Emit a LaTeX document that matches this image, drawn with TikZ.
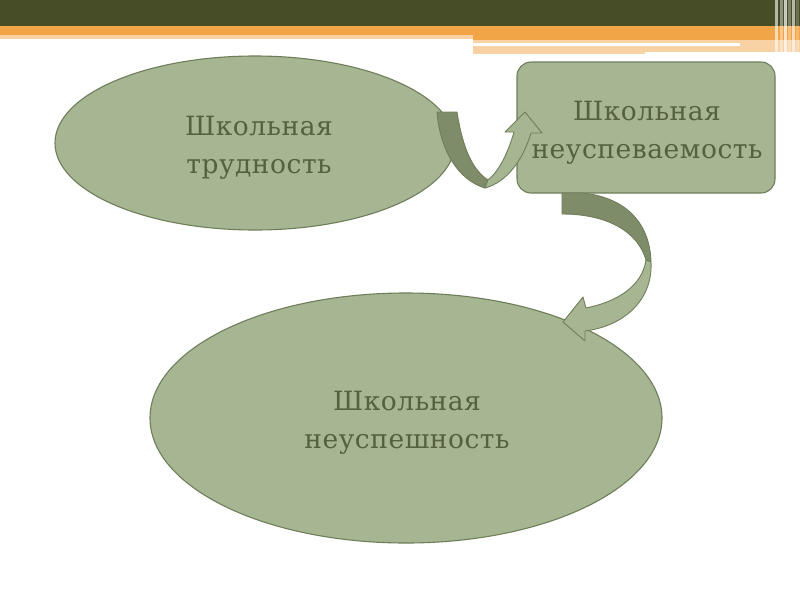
\documentclass[tikz,border=0pt]{standalone}
\usepackage{fontspec}
\usetikzlibrary{shapes.geometric}
\setmainfont{DejaVu Serif}[LetterSpace=2]
\definecolor{olive}{HTML}{464D27}
\definecolor{orng}{HTML}{F2A547}
\definecolor{pale}{HTML}{F8D2A4}
\definecolor{sage}{HTML}{A6B592}
\definecolor{sageline}{HTML}{6F7E5A}
\definecolor{sagedark}{HTML}{7E8C6A}
\definecolor{txt}{HTML}{55613F}
\tikzset{
  shapebox/.style={fill=sage, draw=sageline, line width=1.1pt},
  lbl/.style={text=txt, font=\fontsize{26.5}{38}\selectfont, anchor=base, inner sep=0pt},
  ribbon/.style={draw=sageline, line width=0.9pt, line join=round},
}
\begin{document}
\begin{tikzpicture}[x=1pt,y=-1pt]
\useasboundingbox (0,0) rectangle (800,600);
\fill[white] (0,0) rectangle (800,600);
% header
\fill[olive] (0,0) rectangle (800,26);
\fill[orng] (0,26) rectangle (800,35);
\fill[pale] (0,35) rectangle (473,39);
\fill[orng] (473,35) rectangle (800,40);
\fill[pale] (473,40) rectangle (740,43);
\fill[pale] (473,46) rectangle (645,54);
\fill[pale] (645,46) rectangle (785,52);
\fill[pale] (740,40) rectangle (800,52);
\foreach \x/\c in {775/60,780/40,784/70,788/30,792/60,796/20}
  \fill[white,opacity=0.\c] (\x,0) rectangle (\x+2.5,54);
% shapes
\node[shapebox, ellipse, minimum width=400pt, minimum height=174pt] (e1) at (255,143) {};
\node[shapebox, ellipse, minimum width=512pt, minimum height=250pt] (e2) at (406,418) {};
\node[shapebox, rectangle, rounded corners=14pt, minimum width=258pt, minimum height=131pt] (r) at (646,127.5) {};
\node[lbl] (t1a) at (259,135) {Школьная};
\node[lbl] (t1b) at (259,173) {трудность};
\node[lbl] (t2a) at (647,120) {Школьная};
\node[lbl] (t2b) at (647,158) {неуспеваемость};
\node[lbl] (t3a) at (407,410) {Школьная};
\node[lbl] (t3b) at (407,448) {неуспешность};
% arrow 1 (U-turn)
\filldraw[ribbon, fill=sagedark] (437,112) -- (457,112)
  .. controls (463,150) and (473,170) .. (488,180)
  -- (485,188)
  .. controls (458,180) and (440,150) .. (437,112) -- cycle;
\filldraw[ribbon, fill=sage] (485,188)
  .. controls (507,182) and (523,160) .. (531,133)
  -- (542,133) -- (525,112) -- (505,132) -- (514,132)
  .. controls (507,156) and (498,172) .. (488,180) -- cycle;
% arrow 2
\filldraw[ribbon, fill=sagedark] (562,193) -- (583,193)
  .. controls (628,198) and (650,225) .. (651,262)
  -- (646,260)
  .. controls (638,232) and (608,214) .. (562,214) -- cycle;
\filldraw[ribbon, fill=sage] (651,262)
  .. controls (653,300) and (624,326) .. (585,331)
  -- (585,341) -- (563,322) -- (583,297) -- (586,308)
  .. controls (616,302) and (642,287) .. (646,260) -- cycle;
\end{tikzpicture}
\end{document}
